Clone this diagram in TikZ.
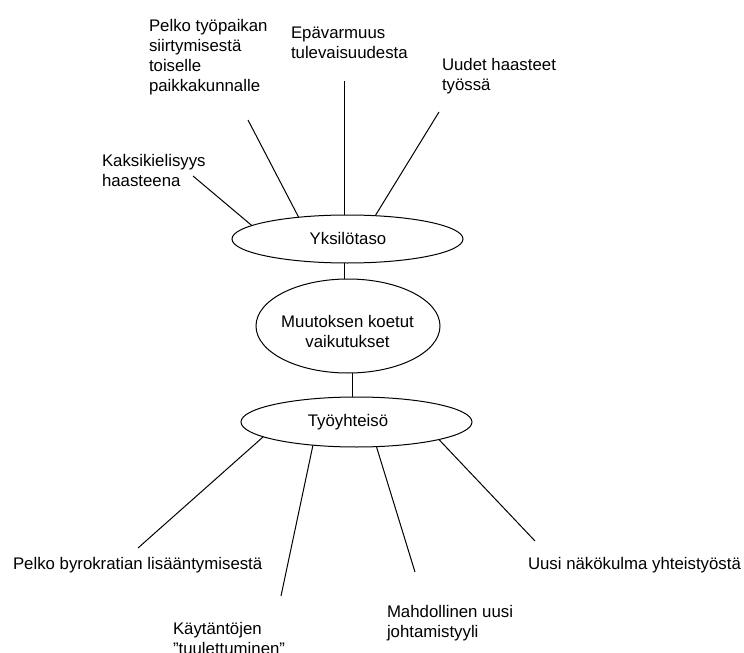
\documentclass[tikz,border=0pt]{standalone}
\usepackage{fontspec}
\setmainfont{Liberation Sans}
\usetikzlibrary{shapes.geometric}
\begin{document}
\begin{tikzpicture}[x=0.75pt,y=-0.75pt,
  txt/.style={inner sep=0pt,outer sep=0pt,align=left,anchor=north west,font=\fontsize{12.6}{15.2}\selectfont},
  ctxt/.style={inner sep=0pt,outer sep=0pt,align=center,font=\fontsize{12.6}{15.2}\selectfont},
  ell/.style={draw,ellipse,inner sep=0pt,outer sep=0pt,line width=0.75pt},
  conn/.style={line width=0.75pt}]
\useasboundingbox (0,0) rectangle (744,653);
% ellipses
\node[ell,minimum width=173.25pt,minimum height=36pt] (yk) at (347.5,239) {};
\node[ell,minimum width=138pt,minimum height=70.5pt] (mu) at (348,326) {};
\node[ell,minimum width=173.25pt,minimum height=37.5pt] (ty) at (356.5,422) {};
\node[ctxt] (ykt) at (348,238.5) {Yksilötaso};
\node[ctxt,anchor=north] (mut) at (347.5,315) {Muutoksen koetut\\vaikutukset};
\node[ctxt,anchor=base] (tyt) at (348,426.5) {Työyhteisö};
% top labels
\node[txt] (pel) at (149,19) {Pelko työpaikan\\siirtymisestä\\toiselle\\paikkakunnalle};
\node[txt] (ep) at (291,27) {Epävarmuus\\tulevaisuudesta};
\node[txt] (uu) at (442,58) {Uudet haasteet\\työssä};
\node[txt] (ka) at (102,154) {Kaksikielisyys\\haasteena};
% bottom labels
\node[txt] (pb) at (13,557) {Pelko byrokratian lisääntymisestä};
\node[txt] (kt) at (173,622) {Käytäntöjen\\"tuulettuminen"};
\node[txt] (ma) at (387,605) {Mahdollinen uusi\\johtamistyyli};
\node[txt] (un) at (528,557) {Uusi näkökulma yhteistyöstä};
% free line ends
\coordinate (cka) at (193,176);
\coordinate (cpel) at (248,120);
\coordinate (cep) at (344,81);
\coordinate (cuu) at (439,112);
\coordinate (cpb) at (138,548);
\coordinate (ckt) at (281,596);
\coordinate (cma) at (415,572);
\coordinate (cun) at (535,541);
% connectors
\draw[conn] (cka) -- (yk.172.8);
\draw[conn] (cpel) -- (yk.156.7);
\draw[conn] (cep) -- (cep |- yk.north);
\draw[conn] (cuu) -- (yk.40);
\draw[conn] ([xshift=-2pt]yk.south) -- ([xshift=-2pt]yk.south |- mu.north);
\draw[conn] ([xshift=3pt]mu.south) -- ([xshift=3pt]mu.south |- ty.north);
\draw[conn] (ty.189) -- (cpb);
\draw[conn] (ty.208.6) -- (ckt);
\draw[conn] (ty.309.8) -- (cma);
\draw[conn] (ty.348.6) -- (cun);
\end{tikzpicture}
\end{document}
